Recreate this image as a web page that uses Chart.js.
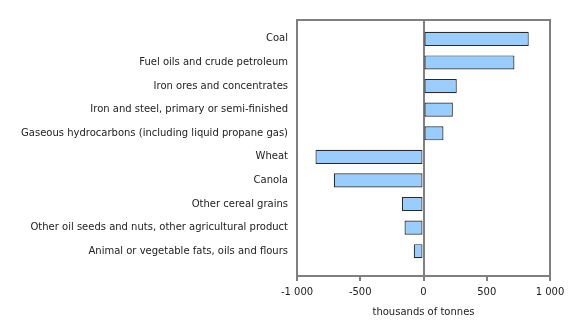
<!DOCTYPE html>
<html>
<head>
<meta charset="utf-8">
<script src="https://cdn.jsdelivr.net/npm/chart.js@4"></script>
<style>
  html, body { margin: 0; padding: 0; background: #fff; }
  #wrap { width: 580px; height: 320px; }
</style>
</head>
<body>
<div id="wrap"><canvas id="c" width="580" height="320"></canvas></div>
<script>
const categories = [
  "Coal",
  "Fuel oils and crude petroleum",
  "Iron ores and concentrates",
  "Iron and steel, primary or semi-finished",
  "Gaseous hydrocarbons (including liquid propane gas)",
  "Wheat",
  "Canola",
  "Other cereal grains",
  "Other oil seeds and nuts, other agricultural product",
  "Animal or vegetable fats, oils and flours"
];
const values = [832, 719, 263, 232, 158, -854, -709, -171, -150, -77];
const xTicks = [-1000, -500, 0, 500, 1000];
const xTitle = "thousands of tonnes";

const AXIS = '#7f7f7f';
const TEXT = '#222222';
const FONT = 'DejaVu Sans';

function fmt(v) {
  const s = Math.abs(v).toString().replace(/\B(?=(\d{3})+(?!\d))/g, '\u00a0');
  return (v < 0 ? '-' : '') + s;
}

const frame = {
  id: 'frame',
  beforeDatasetsDraw(chart) {
    const { ctx, chartArea: a } = chart;
    ctx.save();
    ctx.strokeStyle = AXIS;
    ctx.lineWidth = 2;
    ctx.beginPath();
    ctx.moveTo(a.left - 1, a.top);
    ctx.lineTo(a.right + 1, a.top);
    ctx.stroke();
    ctx.restore();
  }
};

new Chart(document.getElementById('c'), {
  type: 'bar',
  data: {
    datasets: [{
      data: values.map((v, i) => ({ x: v, y: i })),
      backgroundColor: '#99ccff',
      borderColor: '#2a2a2a',
      borderWidth: 1.2,
      borderSkipped: false,
      categoryPercentage: 1,
      barPercentage: 0.6
    }]
  },
  options: {
    indexAxis: 'y',
    responsive: false,
    animation: false,
    devicePixelRatio: 1,
    layout: { padding: { left: 0, right: 30, top: 20, bottom: 0 } },
    plugins: { legend: { display: false }, tooltip: { enabled: false } },
    scales: {
      x: {
        type: 'linear',
        min: -1000,
        max: 1000,
        afterBuildTicks(scale) { scale.ticks = xTicks.map(v => ({ value: v })); },
        afterFit(scale) { scale.height = 44; },
        ticks: {
          callback: v => fmt(v),
          color: TEXT,
          font: { family: FONT, size: 10 },
          padding: 5,
          maxRotation: 0
        },
        grid: {
          color: ctx => (ctx.tick && (ctx.tick.value === 0 || Math.abs(ctx.tick.value) === 1000)) ? AXIS : 'rgba(0,0,0,0)',
          lineWidth: 2,
          tickColor: AXIS,
          tickLength: 5,
          drawTicks: true
        },
        border: { display: true, color: AXIS, width: 2 },
        title: {
          display: true,
          text: xTitle,
          color: TEXT,
          font: { family: FONT, size: 10 },
          padding: { top: 4, bottom: 2 }
        }
      },
      y: {
        type: 'linear',
        reverse: true,
        offset: false,
        min: -0.8,
        max: 10.05,
        afterBuildTicks(scale) { scale.ticks = categories.map((c, i) => ({ value: i })); },
        afterFit(scale) { scale.width = 297; },
        ticks: {
          callback: v => categories[v] ?? '',
          color: TEXT,
          font: { family: FONT, size: 10 },
          padding: 9,
          autoSkip: false
        },
        grid: { display: false, drawTicks: false },
        border: { display: true, color: AXIS, width: 2 }
      }
    }
  },
  plugins: [frame]
});
</script>
</body>
</html>
